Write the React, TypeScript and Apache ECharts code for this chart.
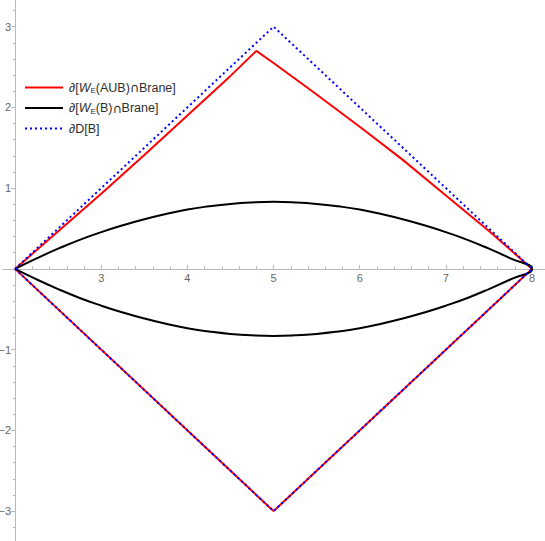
import React, { useEffect, useRef } from "react";
import * as echarts from "echarts";

// Series names (legend)
const seriesNames = ["∂[WE(AUB)∩Brane]", "∂[WE(B)∩Brane]", "∂D[B]"];
const legendRich = [
  "∂[{i|W}{s|E}(AUB){c|∩}Brane]",
  "∂[{i|W}{s|E}(B){c|∩}Brane]",
  "∂D[B]",
];

// Red: ∂[W_E(AUB)∩Brane]
const redX = [2, 3, 3.5, 4, 4.5, 4.8, 5, 5.5, 6, 6.5, 7, 7.5, 8, 5, 2];
const redY = [0, 0.93, 1.41, 1.9, 2.39, 2.7, 2.55, 2.16, 1.76, 1.35, 0.91, 0.47, 0, -3, 0];

// Black: ∂[W_E(B)∩Brane] (upper arc then lower arc)
const blackUpperX = [2, 2.25, 2.5, 2.75, 3, 3.25, 3.5, 3.75, 4, 4.25, 4.5, 4.75, 5, 5.25, 5.5, 5.75, 6, 6.25, 6.5, 6.75, 7, 7.25, 7.5, 7.75, 8];
const blackUpperY = [0, 0.13, 0.25, 0.36, 0.455, 0.54, 0.615, 0.68, 0.735, 0.775, 0.805, 0.823, 0.83, 0.823, 0.805, 0.775, 0.735, 0.68, 0.615, 0.54, 0.455, 0.36, 0.25, 0.13, 0];
const blackLowerX = [8, 7.75, 7.5, 7.25, 7, 6.75, 6.5, 6.25, 6, 5.75, 5.5, 5.25, 5, 4.75, 4.5, 4.25, 4, 3.75, 3.5, 3.25, 3, 2.75, 2.5, 2.25, 2];
const blackLowerY = [0, -0.13, -0.25, -0.36, -0.455, -0.54, -0.615, -0.68, -0.735, -0.775, -0.805, -0.823, -0.83, -0.823, -0.805, -0.775, -0.735, -0.68, -0.615, -0.54, -0.455, -0.36, -0.25, -0.13, 0];

// Blue dotted: ∂D[B]
const blueX = [2, 5, 8, 5, 2];
const blueY = [0, 3, 0, -3, 0];

// Ticks
const xMajorTicks = [3, 4, 5, 6, 7, 8];
const xMinorTicks = [2.2, 2.4, 2.6, 2.8, 3.2, 3.4, 3.6, 3.8, 4.2, 4.4, 4.6, 4.8, 5.2, 5.4, 5.6, 5.8, 6.2, 6.4, 6.6, 6.8, 7.2, 7.4, 7.6, 7.8, 8.2];
const yMajorTicks = [-3, -2, -1, 1, 2, 3];
const yMinorTicks = [-3.2, -2.8, -2.6, -2.4, -2.2, -1.8, -1.6, -1.4, -1.2, -0.8, -0.6, -0.4, -0.2, 0.2, 0.4, 0.6, 0.8, 1.2, 1.4, 1.6, 1.8, 2.2, 2.4, 2.6, 2.8, 3.2];

const X_MIN = 1.86;
const X_MAX = 8.15;
const Y_MIN = -3.37;
const Y_MAX = 3.33;

const W = 545;
const H = 541;
const FONT = "'Liberation Sans', Arial, sans-serif";
const AXIS_COLOR = "#b8b8b8";
const LABEL_COLOR = "#666666";
const LEGEND_COLOR = "#2e2e2e";

const zip = (xs: number[], ys: number[]) => xs.map((x, i) => [x, ys[i]]);

export default function App() {
  const ref = useRef<HTMLDivElement>(null);
  useEffect(() => {
    if (!ref.current) return;
    const chart = echarts.init(ref.current, null, { renderer: "svg" });
    const fmt = (v: number) => (v < 0 ? "\u2212" + Math.abs(v) : String(v));
    // place the x axis at y = 0 and the y axis at x = 2 (as in the reference)
    const xAxisOffset = -(H * (0 - Y_MIN)) / (Y_MAX - Y_MIN);
    const gridLeft = 3;
    const yAxisOffset = -((W - gridLeft) * (2 - X_MIN)) / (X_MAX - X_MIN);
    chart.setOption({
      animation: false,
      backgroundColor: "#ffffff",
      grid: { left: gridLeft, right: 0, top: 0, bottom: 0, containLabel: false, outerBoundsMode: "none" },
      xAxis: [
        {
          type: "value",
          min: X_MIN,
          max: X_MAX,
          position: "bottom",
          offset: xAxisOffset,
          axisLine: { show: true, onZero: false, lineStyle: { color: AXIS_COLOR, width: 1 } },
          axisTick: { show: true, inside: true, length: 4, customValues: xMajorTicks, lineStyle: { color: AXIS_COLOR } },
          axisLabel: { show: true, customValues: xMajorTicks, color: LABEL_COLOR, fontSize: 11, fontFamily: FONT, margin: 4, formatter: fmt },
          splitLine: { show: false },
        },
        {
          type: "value",
          min: X_MIN,
          max: X_MAX,
          position: "bottom",
          offset: xAxisOffset,
          axisLine: { show: false, onZero: false },
          axisTick: { show: true, inside: true, length: 2.5, customValues: xMinorTicks, lineStyle: { color: AXIS_COLOR } },
          axisLabel: { show: false },
          splitLine: { show: false },
        },
      ],
      yAxis: [
        {
          type: "value",
          min: Y_MIN,
          max: Y_MAX,
          position: "left",
          offset: yAxisOffset,
          axisLine: { show: true, onZero: false, lineStyle: { color: AXIS_COLOR, width: 1 } },
          axisTick: { show: true, inside: false, length: 4, customValues: yMajorTicks, lineStyle: { color: AXIS_COLOR } },
          axisLabel: { show: true, customValues: yMajorTicks, color: LABEL_COLOR, fontSize: 11, fontFamily: FONT, margin: 4, formatter: fmt },
          splitLine: { show: false },
        },
        {
          type: "value",
          min: Y_MIN,
          max: Y_MAX,
          position: "left",
          offset: yAxisOffset,
          axisLine: { show: false, onZero: false },
          axisTick: { show: true, inside: false, length: 2, customValues: yMinorTicks, lineStyle: { color: AXIS_COLOR } },
          axisLabel: { show: false },
          splitLine: { show: false },
        },
      ],
      legend: {
        orient: "vertical",
        left: 19,
        top: 76,
        itemWidth: 38,
        itemHeight: 14,
        itemGap: 7,
        selectedMode: false,
        data: seriesNames,
        itemStyle: { opacity: 0 },
        formatter: (name: string) => legendRich[seriesNames.indexOf(name)],
        textStyle: {
          color: LEGEND_COLOR,
          fontSize: 12.5,
          fontFamily: FONT,
          padding: [0, 0, 0, 1],
          rich: {
            i: { fontStyle: "italic", fontSize: 12.5, color: LEGEND_COLOR, fontFamily: FONT },
            s: { fontSize: 8, color: LEGEND_COLOR, fontFamily: FONT, padding: [6, 0, 0, 0] },
            c: { fontSize: 12.5, color: LEGEND_COLOR, fontFamily: "'DejaVu Sans', sans-serif" },
          },
        },
      },
      series: [
        {
          name: seriesNames[0],
          type: "line",
          xAxisIndex: 0,
          yAxisIndex: 0,
          data: zip(redX, redY),
          showSymbol: false,
          symbol: "none",
          smooth: false,
          lineStyle: { color: "#ff0000", width: 2 },
          itemStyle: { color: "#ff0000" },
        },
        {
          name: seriesNames[1],
          type: "line",
          xAxisIndex: 0,
          yAxisIndex: 0,
          data: [...zip(blackUpperX, blackUpperY), ...zip(blackLowerX, blackLowerY)],
          showSymbol: false,
          symbol: "none",
          smooth: true,
          lineStyle: { color: "#000000", width: 2 },
          itemStyle: { color: "#000000" },
        },
        {
          name: seriesNames[2],
          type: "line",
          xAxisIndex: 0,
          yAxisIndex: 0,
          data: zip(blueX, blueY),
          showSymbol: false,
          symbol: "none",
          lineStyle: { color: "#0000ff", width: 2, type: [2, 3] },
          itemStyle: { color: "#0000ff" },
        },
      ],
    });
    return () => chart.dispose();
  }, []);
  return (
    <div
      ref={ref}
      style={{ position: "fixed", left: 0, top: 0, width: W, height: H }}
    />
  );
}
